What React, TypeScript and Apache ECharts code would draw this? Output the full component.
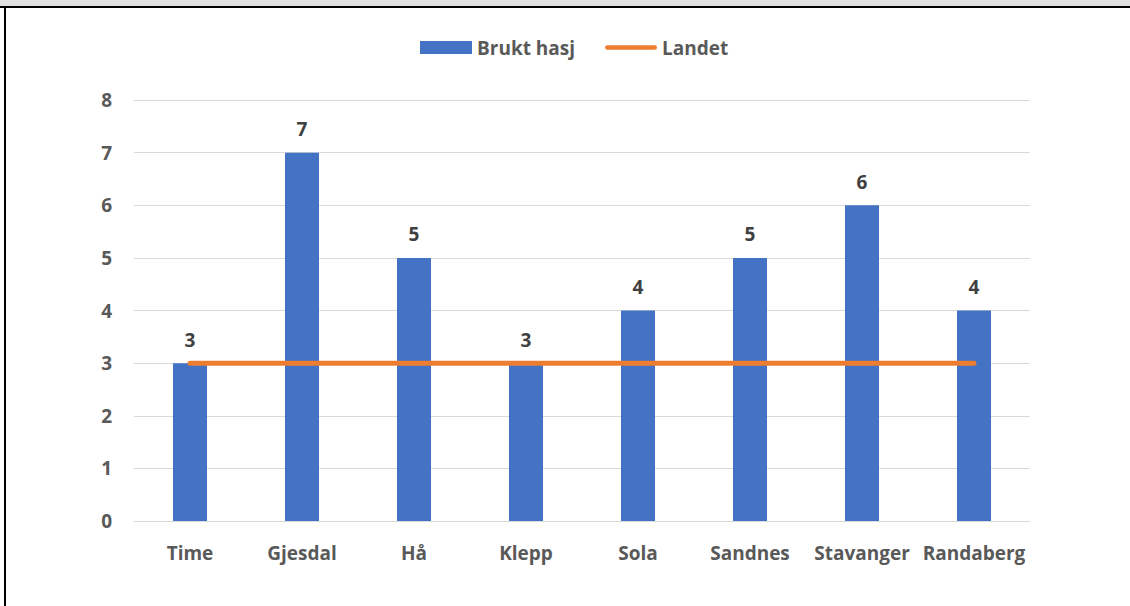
import React, { useEffect, useRef } from "react";
import * as echarts from "echarts";

const categories = ["Time", "Gjesdal", "Hå", "Klepp", "Sola", "Sandnes", "Stavanger", "Randaberg"];
const bruktHasj = [3, 7, 5, 3, 4, 5, 6, 4];
const landet = [3, 3, 3, 3, 3, 3, 3, 3];
const yTicks = { min: 0, max: 8, interval: 1 };

const FONT = "'Open Sans', sans-serif";
const TEXT = "#595959";
const FS = 19;

const LINE_ICON =
  "path://M0,0 M56,13 M2.5,4 L53.5,4 A2.5,2.5 0 0 1 53.5,9 L2.5,9 A2.5,2.5 0 0 1 2.5,4 Z";

export default function App() {
  const ref = useRef<HTMLDivElement>(null);
  useEffect(() => {
    document.body.style.margin = "0";
    const chart = echarts.init(ref.current!, undefined, { renderer: "svg" });
    chart.setOption({
      animation: false,
      backgroundColor: "#ffffff",
      textStyle: { fontFamily: FONT },
      graphic: [
        { type: "rect", shape: { x: 0, y: 0, width: 1130, height: 6 }, style: { fill: "#e0e0e0" }, silent: true },
        { type: "rect", shape: { x: 0, y: 6, width: 1130, height: 2 }, style: { fill: "#000000" }, silent: true },
        { type: "rect", shape: { x: 4, y: 6, width: 2, height: 600 }, style: { fill: "#000000" }, silent: true },
      ],
      legend: {
        top: 33,
        left: 415,
        itemGap: 30,
        itemWidth: 52,
        itemHeight: 13,
        textStyle: { fontFamily: FONT, fontWeight: "bold", fontSize: FS, color: TEXT },
        data: [
          { name: "Brukt hasj", icon: "rect" },
          { name: "Landet", icon: LINE_ICON, itemStyle: { color: "#ED7D31" } },
        ],
      },
      grid: { left: 134, right: 100, top: 100, bottom: 85, containLabel: false },
      xAxis: {
        type: "category",
        data: categories,
        axisLine: { show: true, lineStyle: { color: "#d9d9d9", width: 1 } },
        axisTick: { show: false },
        axisLabel: { margin: 22, fontFamily: FONT, fontWeight: "bold", fontSize: FS, color: TEXT, interval: 0 },
      },
      yAxis: {
        type: "value",
        min: yTicks.min,
        max: yTicks.max,
        interval: yTicks.interval,
        axisLine: { show: false },
        axisTick: { show: false },
        splitLine: { lineStyle: { color: "#d9d9d9", width: 1 } },
        axisLabel: { margin: 22, fontFamily: FONT, fontWeight: "bold", fontSize: FS, color: TEXT },
      },
      series: [
        {
          name: "Brukt hasj",
          type: "bar",
          data: bruktHasj,
          barWidth: 34,
          itemStyle: { color: "#4472C4" },
          label: {
            show: true,
            position: "top",
            distance: 14,
            fontFamily: FONT,
            fontWeight: "bold",
            fontSize: FS,
            color: "#404040",
          },
        },
        {
          name: "Landet",
          type: "line",
          data: landet,
          symbol: "none",
          lineStyle: { color: "#ED7D31", width: 5, cap: "round" },
          itemStyle: { color: "#ED7D31" },
        },
      ],
    });
    return () => chart.dispose();
  }, []);
  return <div ref={ref} style={{ width: 1130, height: 606 }} />;
}
